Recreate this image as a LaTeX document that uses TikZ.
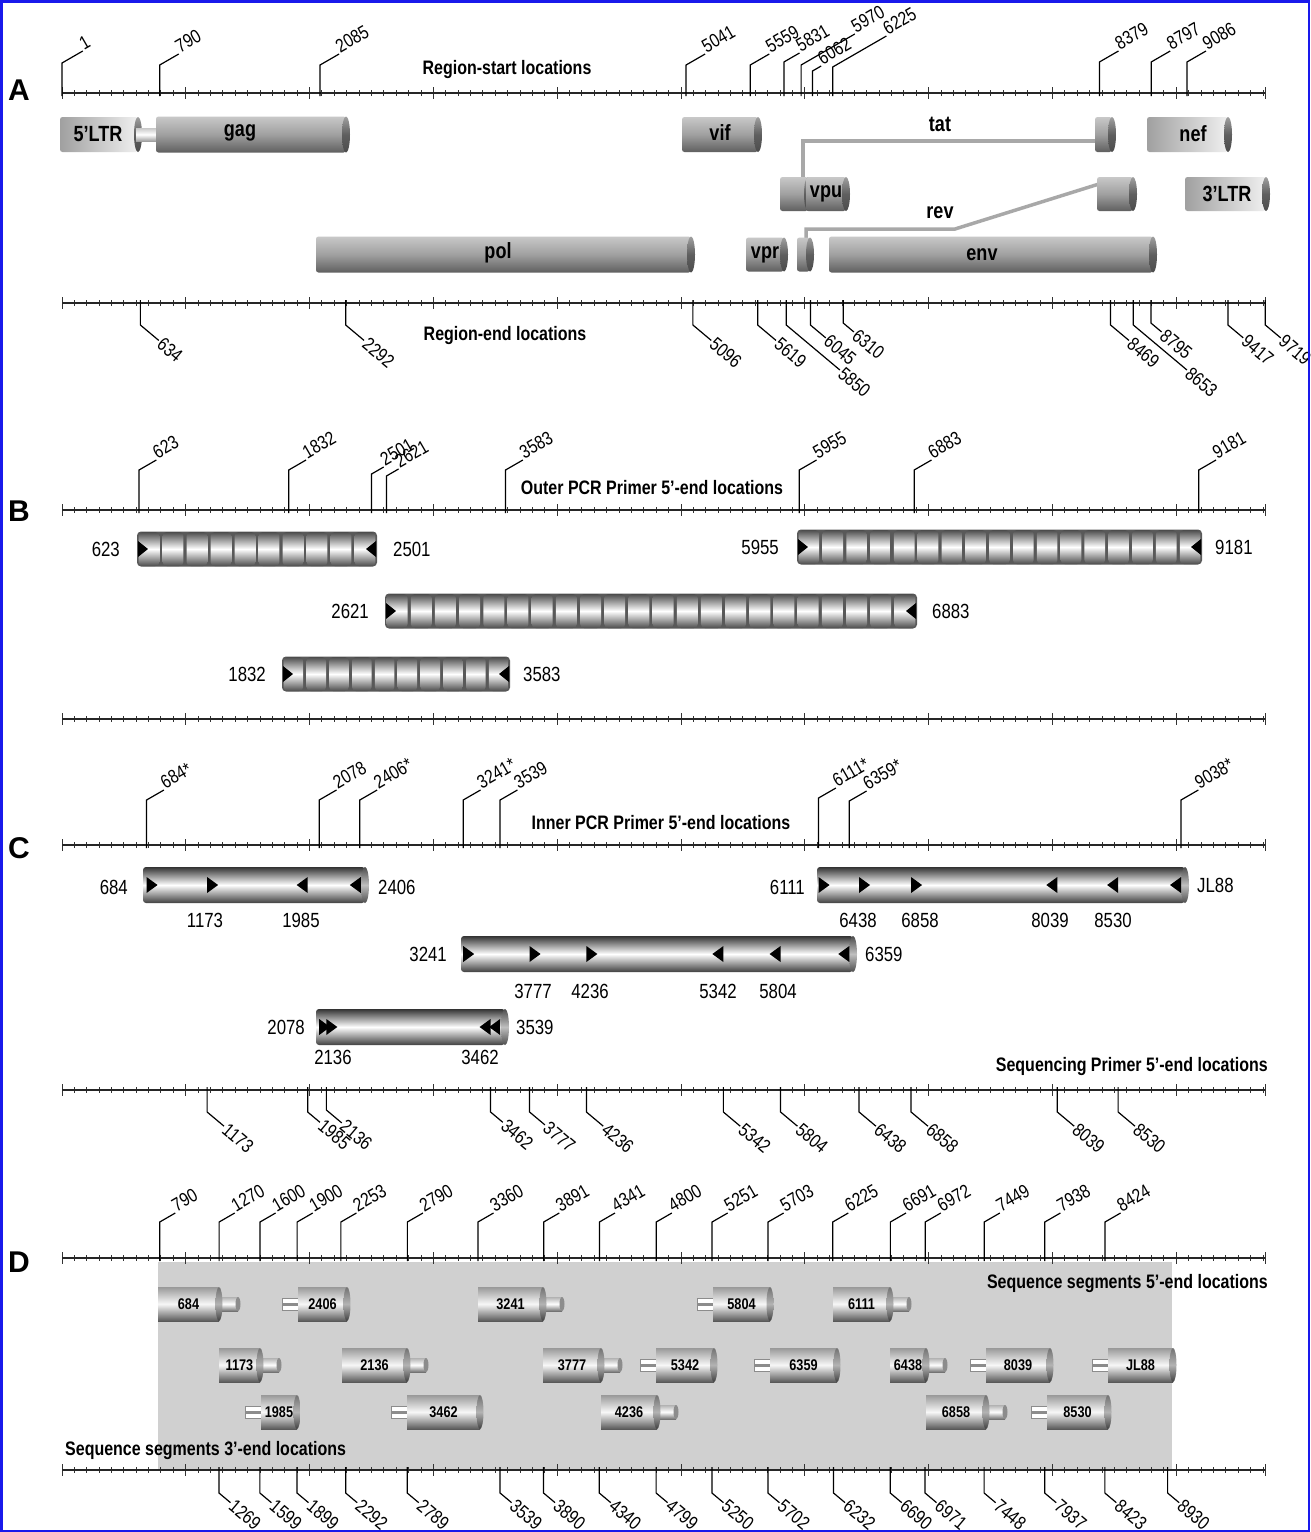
\documentclass[tikz,border=0pt]{standalone}
\usepackage{fontspec}
\setmainfont{Liberation Sans}[FakeStretch=0.82]
\newfontfamily\widefont{Liberation Sans}
\definecolor{gA}{RGB}{200,200,200}
\definecolor{gB}{RGB}{160,160,160}
\definecolor{gC}{RGB}{95,95,95}
\definecolor{gL}{RGB}{240,240,240}
\definecolor{bgD}{RGB}{208,208,208}
\definecolor{frameblue}{RGB}{25,25,235}
\definecolor{linkgray}{RGB}{168,168,168}
\tikzset{
 axl/.style={line width=1.8pt, black!85},
 tkl/.style={line width=0.9pt, black!80},
 labl/.style={line width=1.2pt, black},
 linkline/.style={linkgray, line width=3.5pt},
 numtxt/.style={font=\fontsize{19}{19}\selectfont, inner sep=1pt},
 ttl/.style={font=\bfseries\fontsize{19.5}{20}\selectfont, inner sep=0pt},
 endtxt/.style={font=\fontsize{20.5}{21}\selectfont, inner sep=0pt},
 gtxt/.style={font=\bfseries\fontsize{22}{22}\selectfont, inner sep=0pt},
 plet/.style={font=\widefont\bfseries\fontsize{30}{30}\selectfont, inner sep=0pt},
 itxt/.style={font=\bfseries\fontsize{15.5}{16}\selectfont, inner sep=0pt},
}
\newcommand{\gx}[1]{(62+((#1)-1)*0.12383)}
\newcommand{\myaxis}[1]{%
 \foreach \k in {1,...,97}{\draw[tkl] ({\gx{\k*100}},{#1-3}) -- ({\gx{\k*100}},{#1+3});}
 \foreach \k in {1,...,9}{\draw[tkl] ({\gx{\k*1000}},{#1-6}) -- ({\gx{\k*1000}},{#1+6});}
 \draw[tkl] (62,{#1-6}) -- (62,{#1+6});
 \draw[tkl] (1265,{#1-6}) -- (1265,{#1+6});
 \draw[axl] (62,#1) -- (1265,#1);
}
\newcommand{\toplab}[5]{%
 \draw[labl] ({\gx{#1}},{#2+3}) -- ({\gx{#1}},{#2-#3}) -- ++({0.866*#4},{-0.5*#4}) node[numtxt,anchor=base west,rotate=30] (u#2x#1) {#5};
}
\newcommand{\botlab}[5]{%
 \draw[labl] ({\gx{#1}},{#2-3}) -- ({\gx{#1}},{#2+#3}) -- ++({0.766*#4},{0.643*#4}) node[numtxt,anchor=west,rotate=-40] (d#2x#1) {#5};
}
\newcommand{\genecyl}[4]{%
 \shade[top color=gA, bottom color=gC, middle color=gB, rounded corners=2.5pt] (#1,{#3-#4}) rectangle (#2,{#3+#4});
 \shade[top color=gB, bottom color=gC!80!black, middle color=gC] (#2,#3) ellipse (4 and #4);
}
\newcommand{\lightcyl}[4]{%
 \shade[left color=gB, right color=gL, rounded corners=2.5pt] (#1,{#3-#4}) rectangle (#2,{#3+#4});
 \shade[top color=gB, bottom color=gC!80!black, middle color=gC] (#2,#3) ellipse (4 and #4);
}
\newcommand{\ampB}[4]{%
 \fill[black!65, rounded corners=4pt] (#1,{#3-17.5}) rectangle (#2,{#3+17.5});
 \pgfmathsetmacro{\segw}{(#2-#1)/#4}
 \pgfmathtruncatemacro{\segn}{#4-1}
 \foreach \i in {0,...,\segn}{
   \shade[top color=black!70, bottom color=black!70, middle color=white, rounded corners=4pt] ({#1+\i*\segw+1.6},{#3-17}) rectangle ({#1+(\i+1)*\segw-1.6},{#3+17});
 }
 \fill[black] ({#1+1},{#3-8}) -- ({#1+1},{#3+8}) -- ({#1+11},#3) -- cycle;
 \fill[black] ({#2-1},{#3-8}) -- ({#2-1},{#3+8}) -- ({#2-11},#3) -- cycle;
}
\newcommand{\ampC}[3]{%
 \shade[top color=black!80, bottom color=black!75, middle color=white, rounded corners=3pt] (#1,{#3-18}) rectangle (#2,{#3+18});
 \shade[top color=black!70, bottom color=black!70, middle color=black!25] (#2,#3) ellipse (4 and 18);
}
\newcommand{\rarr}[2]{\fill[black] ({#1},{#2-8}) -- ({#1},{#2+8}) -- ({#1+11},#2) -- cycle;}
\newcommand{\larr}[2]{\fill[black] ({#1},{#2-8}) -- ({#1},{#2+8}) -- ({#1-11},#2) -- cycle;}
\newcommand{\icobody}[4]{%
 \shade[top color=black!40, bottom color=black!65, middle color=black!3] (#1,{#3-17}) rectangle (#2,{#3+17});
 \shade[top color=black!55, bottom color=black!75, middle color=black!30] (#2,#3) ellipse (3.5 and 17);
 \node[itxt] (ic#4) at ({(#1+#2)/2},#3) {#4};
}
\newcommand{\fwdic}[4]{%
 \shade[top color=black!30, bottom color=black!55, middle color=white] ({#2-2},{#3-7}) rectangle ({#2+19},{#3+7});
 \fill[black!45] ({#2+19},#3) ellipse (2.5 and 7);
 \icobody{#1}{#2}{#3}{#4}
}
\newcommand{\revic}[4]{%
 \fill[black!45] ({#1-16},{#3-6.5}) rectangle (#1,{#3+6.5});
 \fill[white] ({#1-15},{#3-5.5}) rectangle (#1,{#3-1.5});
 \fill[white] ({#1-15},{#3+1.5}) rectangle (#1,{#3+5.5});
 \icobody{#1}{#2}{#3}{#4}
}
\begin{document}
\begin{tikzpicture}[x=1pt,y=-1pt]
\useasboundingbox (0,0) rectangle (1310,1532);
\fill[white] (0,0) rectangle (1310,1532);
\clip (0,0) rectangle (1310,1532);

% Panel D background
\fill[bgD] (158,1262) rectangle (1172,1470);

% axes
\myaxis{93} \myaxis{303} \myaxis{510} \myaxis{719} \myaxis{845} \myaxis{1090} \myaxis{1258} \myaxis{1470}

% panel letters
\node[plet] (pA) at (19,90) {A};
\node[plet] (pB) at (19,511) {B};
\node[plet] (pC) at (19,848) {C};
\node[plet] (pD) at (19,1262) {D};

% ---------- Panel A ----------
\toplab{1}{93}{30}{24}{1}
\toplab{790}{93}{28}{22}{790}
\toplab{2085}{93}{28}{22}{2085}
\toplab{5041}{93}{28}{22}{5041}
\toplab{5559}{93}{28}{22}{5559}
\toplab{5831}{93}{31}{18}{5831}
\toplab{5970}{93}{28}{62}{5970}
\toplab{6062}{93}{22}{10}{6062}
\toplab{6225}{93}{26}{62}{6225}
\toplab{8379}{93}{31}{22}{8379}
\toplab{8797}{93}{31}{22}{8797}
\toplab{9086}{93}{31}{22}{9086}
\node[ttl] (tA1) at (507,69) {Region-start locations};

\botlab{634}{303}{22}{24}{634}
\botlab{2292}{303}{22}{24}{2292}
\botlab{5096}{303}{22}{24}{5096}
\botlab{5619}{303}{22}{24}{5619}
\botlab{5850}{303}{22}{70}{5850}
\botlab{6045}{303}{22}{20}{6045}
\botlab{6310}{303}{20}{14}{6310}
\botlab{8469}{303}{22}{24}{8469}
\botlab{8653}{303}{22}{70}{8653}
\botlab{8795}{303}{20}{14}{8795}
\botlab{9417}{303}{22}{20}{9417}
\botlab{9719}{303}{22}{20}{9719}
\node[ttl] (tA2) at (505,335) {Region-end locations};

% splice links
\coordinate (tat1top) at (803,178);
\coordinate (tat2left) at (1096,141);
\coordinate (rev1top) at (806,238);
\coordinate (revbend) at (955,229);
\coordinate (rev2left) at (1099,184);
\draw[linkline] (tat1top) |- (tat2left);
\draw[linkline] (rev1top) |- (revbend) -- (rev2left);

% genes row 1
\lightcyl{60}{138}{134.5}{17.5}
\shade[top color=gA, bottom color=gB, middle color=white] (136,128) rectangle (158,141);
\node[gtxt] (g5ltr) at (98,134) {5'LTR};
\genecyl{156}{346}{134.5}{18}
\node[gtxt] (ggag) at (240,133) {gag};
\genecyl{682}{758}{134.5}{17.5}
\node[gtxt] (gvif) at (720,133) {vif};
\genecyl{1095}{1112}{134.5}{17.5}
\lightcyl{1147}{1228}{134.5}{17.5}
\node[gtxt] (gnef) at (1193,134) {nef};
\node[gtxt] (gtat) at (940,124) {tat};
% row 2
\genecyl{780}{808}{194}{17}
\genecyl{806}{846}{194}{17}
\node[gtxt] (gvpu) at (826,194) {vpu};
\genecyl{1097}{1133}{194}{17}
\lightcyl{1185}{1266}{194}{17}
\node[gtxt] (g3ltr) at (1227,194) {3'LTR};
\node[gtxt] (grev) at (940,213) {rev};
% row 3
\genecyl{316}{691}{254.5}{18}
\node[gtxt] (gpol) at (498,253) {pol};
\genecyl{746}{784}{254.5}{17}
\node[gtxt] (gvpr) at (765,255) {vpr};
\genecyl{797}{810}{254.5}{17}
\genecyl{829}{1153}{254.5}{18}
\node[gtxt] (genv) at (982,255) {env};

% ---------- Panel B ----------
\toplab{623}{510}{40}{20}{623}
\toplab{1832}{510}{40}{20}{1832}
\toplab{2501}{510}{36}{14}{2501}
\toplab{2621}{510}{34}{14}{2621}
\toplab{3583}{510}{40}{20}{3583}
\toplab{5955}{510}{40}{20}{5955}
\toplab{6883}{510}{40}{20}{6883}
\toplab{9181}{510}{40}{20}{9181}
\node[ttl] (tB) at (652,488) {Outer PCR Primer 5'-end locations};

\ampB{137}{377}{549}{10}
\ampB{797}{1202}{547}{17}
\ampB{385}{917}{611}{22}
\ampB{282}{510}{674}{10}
\node[endtxt,anchor=east] (b623) at (120,549) {623};
\node[endtxt,anchor=west] (b2501) at (393,549) {2501};
\node[endtxt,anchor=east] (b5955) at (779,547) {5955};
\node[endtxt,anchor=west] (b9181) at (1215,547) {9181};
\node[endtxt,anchor=east] (b2621) at (369,611) {2621};
\node[endtxt,anchor=west] (b6883) at (932,611) {6883};
\node[endtxt,anchor=east] (b1832) at (266,674) {1832};
\node[endtxt,anchor=west] (b3583) at (523,674) {3583};

% ---------- Panel C ----------
\toplab{684}{845}{45}{20}{684*}
\toplab{2078}{845}{45}{20}{2078}
\toplab{2406}{845}{45}{20}{2406*}
\toplab{3241}{845}{45}{20}{3241*}
\toplab{3539}{845}{45}{20}{3539}
\toplab{6111}{845}{47}{20}{6111*}
\toplab{6359}{845}{44}{20}{6359*}
\toplab{9038}{845}{45}{20}{9038*}
\node[ttl] (tC) at (661,823) {Inner PCR Primer 5'-end locations};

\ampC{143}{365}{885}
\rarr{\gx{684}}{885} \rarr{\gx{1173}}{885} \larr{\gx{1985}}{885} \larr{\gx{2406}+1}{885}
\ampC{817}{1185}{885}
\rarr{\gx{6111}}{885} \rarr{\gx{6438}}{885} \rarr{\gx{6858}}{885}
\larr{\gx{8039}}{885} \larr{\gx{8530}}{885} \larr{\gx{9038}}{885}
\ampC{461}{853}{954}
\rarr{\gx{3241}}{954} \rarr{\gx{3777}}{954} \rarr{\gx{4236}}{954}
\larr{\gx{5342}}{954} \larr{\gx{5804}}{954} \larr{\gx{6359}}{954}
\ampC{316}{505}{1027}
\rarr{\gx{2078}}{1027} \rarr{\gx{2136}}{1027} \larr{\gx{3462}}{1027} \larr{\gx{3539}}{1027}

\node[endtxt,anchor=east] (c684) at (128,887) {684};
\node[endtxt,anchor=west] (c2406) at (378,887) {2406};
\node[endtxt,anchor=east] (c6111) at (805,887) {6111};
\node[endtxt,anchor=west] (cJL) at (1197,885) {JL88};
\node[endtxt] (c1173) at (205,920) {1173};
\node[endtxt] (c1985) at (301,920) {1985};
\node[endtxt] (c6438) at (858,920) {6438};
\node[endtxt] (c6858) at (920,920) {6858};
\node[endtxt] (c8039) at (1050,920) {8039};
\node[endtxt] (c8530) at (1113,920) {8530};
\node[endtxt,anchor=east] (c3241) at (447,954) {3241};
\node[endtxt,anchor=west] (c6359) at (865,954) {6359};
\node[endtxt] (c3777) at (533,991) {3777};
\node[endtxt] (c4236) at (590,991) {4236};
\node[endtxt] (c5342) at (718,991) {5342};
\node[endtxt] (c5804) at (778,991) {5804};
\node[endtxt,anchor=east] (c2078) at (305,1027) {2078};
\node[endtxt,anchor=west] (c3539) at (516,1027) {3539};
\node[endtxt] (c2136) at (333,1057) {2136};
\node[endtxt] (c3462) at (480,1057) {3462};

% sequencing primers axis
\botlab{1173}{1090}{22}{22}{1173}
\botlab{1985}{1090}{22}{16}{1985}
\botlab{2136}{1090}{20}{20}{2136}
\botlab{3462}{1090}{22}{16}{3462}
\botlab{3777}{1090}{22}{20}{3777}
\botlab{4236}{1090}{22}{22}{4236}
\botlab{5342}{1090}{22}{22}{5342}
\botlab{5804}{1090}{22}{22}{5804}
\botlab{6438}{1090}{22}{22}{6438}
\botlab{6858}{1090}{22}{22}{6858}
\botlab{8039}{1090}{22}{22}{8039}
\botlab{8530}{1090}{22}{22}{8530}
\node[ttl,anchor=east] (tSeq) at (1268,1066) {Sequencing Primer 5'-end locations};

% ---------- Panel D ----------
\foreach \p in {790,1270,1600,1900,2253,2790,3360,3891,4341,4800,5251,5703,6225,6691,6972,7449,7938,8424}{\toplab{\p}{1258}{36}{18}{\p}}
\foreach \p in {1269,1599,1899,2292,2789,3539,3890,4340,4799,5250,5702,6232,6690,6971,7448,7937,8423,8930}{\botlab{\p}{1470}{23}{15}{\p}}
\node[ttl,anchor=east] (tD1) at (1268,1283) {Sequence segments 5'-end locations};
\node[ttl,anchor=west] (tD2) at (65,1450) {Sequence segments 3'-end locations};

% row 1
\fwdic{158}{219}{1304}{684}
\revic{298}{347}{1304}{2406}
\fwdic{478}{543}{1304}{3241}
\revic{713}{770}{1304}{5804}
\fwdic{833}{890}{1304}{6111}
% row 2
\fwdic{219}{260}{1365}{1173}
\fwdic{342}{407}{1365}{2136}
\fwdic{543}{601}{1365}{3777}
\revic{656}{714}{1365}{5342}
\revic{770}{837}{1365}{6359}
\fwdic{890}{926}{1365}{6438}
\revic{986}{1050}{1365}{8039}
\revic{1108}{1173}{1365}{JL88}
% row 3
\revic{261}{297}{1412}{1985}
\revic{407}{480}{1412}{3462}
\fwdic{601}{657}{1412}{4236}
\fwdic{926}{986}{1412}{6858}
\revic{1047}{1108}{1412}{8530}

% frame
\draw[frameblue, line width=2.5pt] (1.25,1.25) rectangle (1308.75,1530.75);
\end{tikzpicture}
\end{document}
